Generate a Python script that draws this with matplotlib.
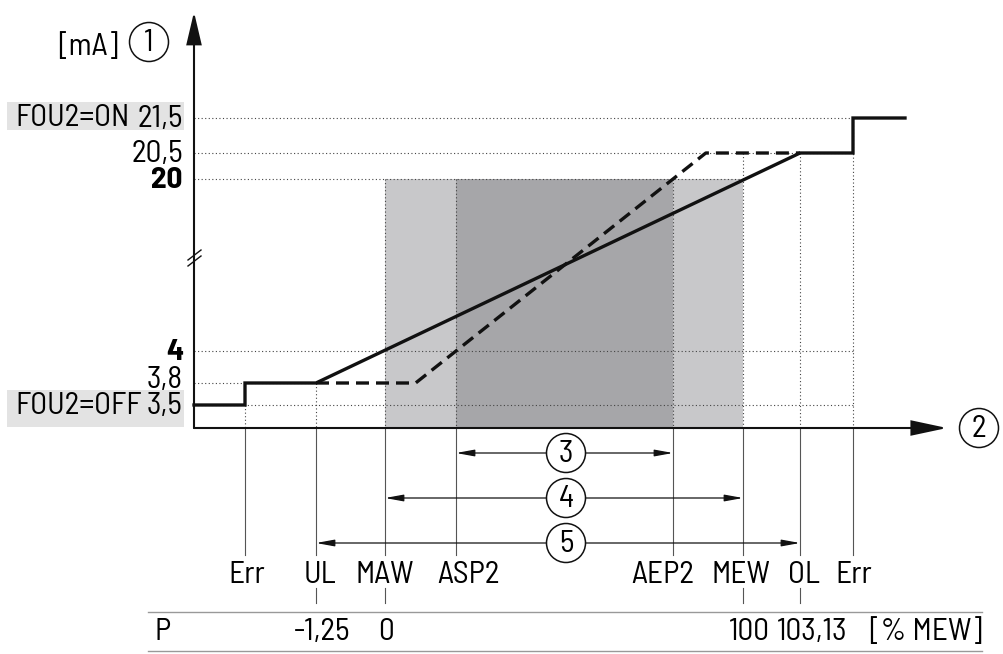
#Recreation of the analogue output / measuring range diagram (FOU2, ASP2, AEP2)
import numpy as np
import matplotlib.pyplot as plt
from matplotlib.patches import Rectangle, Circle, FancyArrowPatch, ArrowStyle

plt.rcParams['font.family'] = ['Barlow Semi Condensed', 'Archivo Narrow', 'Liberation Sans', 'DejaVu Sans']

#DATA
mark_names = ['Err', 'UL', 'MAW', 'ASP2', 'AEP2', 'MEW', 'OL', 'Err']
mark_x = [245, 316, 385, 456, 673, 743, 800, 853]      #schematic x positions
mark_top = [3.5, 3.8, 20, 20, 20, 20.5, 20.5, 21.5]     #mA level where the guide line starts
mark_label_dx = [2, 4, 0, 13, -10, -2, 4, 1]

ma_levels = [3.5, 3.8, 4, 20, 20.5, 21.5]
ma_labels = ['3,5', '3,8', '4', '20', '20,5', '21,5']
ma_bold = [False, False, True, True, False, False]
ma_line_end = ['Err2', 'UL', 'Err2', 'MEW', 'Err2', 'Err2']  #where the dotted level line stops

pct_marks = ['UL', 'MAW', 'MEW', 'OL']
pct_values = ['-1,25', '0', '100', '103,13']
pct_dx = [6, 1, 6, 12]

ranges = ['3', '4', '5']
range_from = ['ASP2', 'MAW', 'UL']
range_to = ['AEP2', 'MEW', 'OL']

#broken y axis: screen position of every mA level
level_px = [405, 383, 351, 179, 153, 118]

def ypos(ma):
    return np.interp(ma, ma_levels, level_px)

pos = dict(zip(['Err1', 'UL', 'MAW', 'ASP2', 'AEP2', 'MEW', 'OL', 'Err2'], mark_x))
x0 = 194          #y axis
xaxis_y = 428
x_end = 905

fig = plt.figure(figsize=(10.04, 6.54), dpi=100)
ax = fig.add_axes([0, 0, 1, 1])
ax.set_xlim(0, 1004)
ax.set_ylim(654, 0)
ax.axis('off')

FS = 22.5
GRID = dict(color='#444444', lw=0.8, ls=(0, (1, 2.2)), zorder=2)

#SHADED RANGES
ax.add_patch(Rectangle((pos['MAW'], ypos(20)), pos['MEW'] - pos['MAW'], xaxis_y - ypos(20),
                       fc='#c8c8ca', ec='none', zorder=0))
ax.add_patch(Rectangle((pos['ASP2'], ypos(20)), pos['AEP2'] - pos['ASP2'], xaxis_y - ypos(20),
                       fc='#a6a6a9', ec='none', zorder=0))

#DOTTED GUIDE LINES
for lvl, end in zip(ma_levels, ma_line_end):
    ax.plot([x0, pos[end]], [ypos(lvl)] * 2, **GRID)
for x, top in zip(mark_x, mark_top):
    ax.plot([x, x], [ypos(top), xaxis_y], **GRID)
    ax.plot([x, x], [xaxis_y, 555], color='#555555', lw=0.8, zorder=1)

#CURVES
sx = [x0, pos['Err1'], pos['Err1'], pos['UL'], pos['OL'], pos['Err2'], pos['Err2'], x_end]
sy = [3.5, 3.5, 3.8, 3.8, 20.5, 20.5, 21.5, 21.5]
ax.plot(sx, ypos(np.array(sy)), color='#111111', lw=2.4, solid_joinstyle='miter', zorder=4)

#dashed curve: 4 mA at ASP2, 20 mA at AEP2, clamped to 3.8 / 20.5
k = (pos['AEP2'] - pos['ASP2']) / (ypos(20) - ypos(4))
x_lo = pos['ASP2'] + (ypos(3.8) - ypos(4)) * k
x_hi = pos['ASP2'] + (ypos(20.5) - ypos(4)) * k
dx = [pos['UL'], x_lo, x_hi, pos['OL']]
dy = [3.8, 3.8, 20.5, 20.5]
ax.plot(dx, ypos(np.array(dy)), color='#111111', lw=2.4, ls=(0, (3.9, 2.1)), zorder=3)

#AXES WITH ARROWS
ax.add_patch(FancyArrowPatch((x0, xaxis_y), (x0, 12),
                             arrowstyle=ArrowStyle('-|>', head_length=20, head_width=4.7),
                             mutation_scale=1, shrinkA=0, shrinkB=0, lw=1.5, color='#111111',
                             joinstyle='miter', zorder=5))
ax.add_patch(FancyArrowPatch((x0, xaxis_y), (947, xaxis_y),
                             arrowstyle=ArrowStyle('-|>', head_length=22, head_width=4.7),
                             mutation_scale=1, shrinkA=0, shrinkB=0, lw=1.5, color='#111111',
                             joinstyle='miter', zorder=5))
#axis break
for off in (0, 6):
    ax.plot([188, 201], [260 + off, 250 + off], color='#111111', lw=1.0, zorder=6)

def circled(x, y, txt):
    ax.add_patch(Circle((x, y), 19.5, fc='white', ec='#111111', lw=1.1, zorder=7))
    ax.text(x, y + 9, txt, fontsize=FS, ha='center', va='baseline', zorder=8)

circled(149, 42, '1')
circled(979, 428, '2')
ax.text(118, 55, '[mA]', fontsize=FS, ha='right', va='baseline')

#Y LABELS
ax.add_patch(Rectangle((7, 102), 177, 28, fc='#e3e3e3', ec='none', zorder=0))
ax.add_patch(Rectangle((7, 390), 177, 37, fc='#e3e3e3', ec='none', zorder=0))
for lvl, lab, bold in zip(ma_levels, ma_labels, ma_bold):
    yb = ypos(lvl) + (5 if lvl == 3.8 else 9)
    ax.text(183, yb, lab, fontsize=FS, ha='right', va='baseline',
            fontweight='bold' if bold else 'normal')
ax.text(15, ypos(21.5) + 8, 'FOU2=ON', fontsize=FS, ha='left', va='baseline')
ax.text(15, ypos(3.5) + 9, 'FOU2=OFF', fontsize=FS, ha='left', va='baseline')

#RANGE ARROWS 3/4/5
for i, (lab, a, b) in enumerate(zip(ranges, range_from, range_to)):
    y = 453 + 45 * i
    ax.add_patch(FancyArrowPatch((pos[a], y), (pos[b], y),
                                 arrowstyle=ArrowStyle('<|-|>', head_length=11, head_width=2),
                                 mutation_scale=1, shrinkA=0, shrinkB=0, lw=0.9,
                                 color='#111111', zorder=6))
    circled(566, y, lab)

#X LABELS
for name, x, ddx in zip(mark_names, mark_x, mark_label_dx):
    ax.text(x + ddx, 583, name, fontsize=FS, ha='center', va='baseline')

#PERCENT TABLE
ax.plot([148, 982], [612, 612], color='#999999', lw=1)
ax.plot([148, 982], [651, 651], color='#999999', lw=1)
ax.text(155, 640, 'P', fontsize=FS, ha='left', va='baseline')
for m, v, ddx in zip(pct_marks, pct_values, pct_dx):
    ax.plot([pos[m], pos[m]], [588, 603], color='#555555', lw=0.8)
    ax.text(pos[m] + ddx, 640, v, fontsize=FS, ha='center', va='baseline')
ax.text(926, 640, '[% MEW]', fontsize=FS, ha='center', va='baseline')

plt.savefig('out.png', dpi=100)
